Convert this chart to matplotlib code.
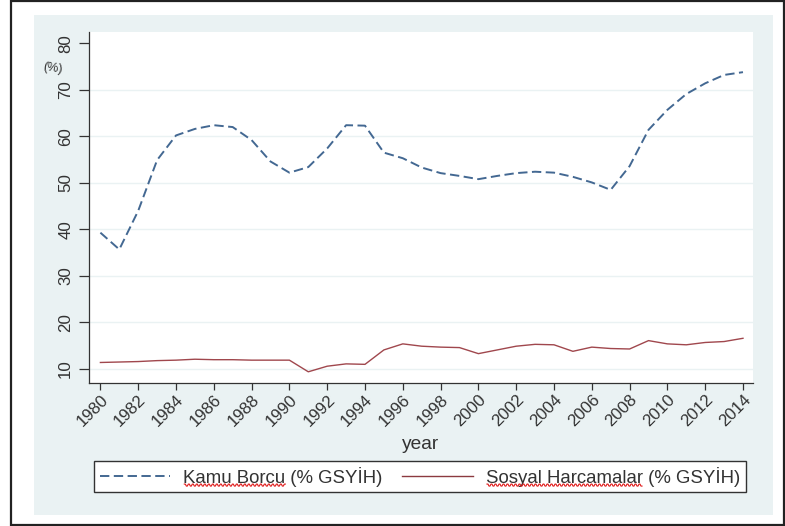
import matplotlib
matplotlib.use('Agg')
import matplotlib.pyplot as plt
from matplotlib.patches import Rectangle
from matplotlib.lines import Line2D
from matplotlib.text import Text
import numpy as np

plt.rcParams['font.family'] = ['Liberation Sans', 'DejaVu Sans']

years = list(range(1980, 2015))
kamu_borcu = [39.3, 35.7, 44.0, 54.9, 60.2, 61.6, 62.4, 62.0, 59.2, 54.6,
              52.2, 53.4, 57.4, 62.4, 62.3, 56.5, 55.3, 53.3, 52.1, 51.5,
              50.8, 51.5, 52.1, 52.4, 52.2, 51.3, 50.1, 48.5, 53.6, 61.4,
              65.7, 69.1, 71.4, 73.2, 73.8]
sosyal_harcamalar = [11.4, 11.5, 11.6, 11.8, 11.9, 12.1, 12.0, 12.0, 11.9, 11.9,
                     11.9, 9.4, 10.6, 11.1, 11.0, 14.1, 15.4, 14.9, 14.7, 14.6,
                     13.3, 14.1, 14.9, 15.3, 15.2, 13.8, 14.7, 14.4, 14.3, 16.1,
                     15.4, 15.2, 15.7, 15.9, 16.6]
x_ticks = list(range(1980, 2015, 2))
y_ticks = [10, 20, 30, 40, 50, 60, 70, 80]
label_debt = "Kamu Borcu (% GSYİH)"
label_social = "Sosyal Harcamalar (% GSYİH)"

W, H = 785, 526
fig = plt.figure(figsize=(W / 100, H / 100), dpi=100)
fig.patch.set_facecolor('white')

def fx(px):
    return px / W

def fy(py):
    return 1 - py / H

# light Stata-like background and outer frame
fig.patches.append(Rectangle((fx(34), fy(515)), fx(773) - fx(34), fy(15) - fy(515),
                             transform=fig.transFigure, facecolor='#eaf2f3',
                             edgecolor='none', zorder=-10))
fig.patches.append(Rectangle((fx(11), fy(524.5)), fx(783.5) - fx(11), fy(1) - fy(524.5),
                             transform=fig.transFigure, facecolor='none',
                             edgecolor='#222222', linewidth=1.6, zorder=5))

ax = fig.add_axes([fx(88.5), fy(383), fx(753) - fx(88.5), fy(32) - fy(383)])
ax.set_zorder(1)
ax.set_facecolor('white')

l1, = ax.plot(years, kamu_borcu, color='#436892', linewidth=1.4,
              linestyle=(0, (4.8, 2.3)), label=label_debt, zorder=3)
l2, = ax.plot(years, sosyal_harcamalar, color='#a0474d', linewidth=1.0,
              label=label_social, zorder=3)

ax.set_xlim(1979.37, 2014.53)
ax.set_ylim(6.99, 82.43)
ax.set_xticks(x_ticks)
ax.set_xticklabels([str(t) for t in x_ticks], rotation=45, ha='right', va='top',
                   rotation_mode='anchor', fontsize=12.2, color='#333333')
ax.set_yticks(y_ticks)
ax.set_yticklabels([str(t) for t in y_ticks], rotation=90, va='center',
                   fontsize=12.2, color='#333333')
ax.tick_params(axis='both', direction='out', width=0.9, color='#333333')
ax.tick_params(axis='x', length=5, pad=1.5)
ax.tick_params(axis='y', length=7, pad=4)

ax.yaxis.grid(True, color='#eaf2f3', linewidth=1.0)
ax.set_axisbelow(True)
for gl, t in zip(ax.get_ygridlines(), y_ticks):
    if t == 80:
        gl.set_visible(False)

for s in ['top', 'right']:
    ax.spines[s].set_visible(False)
for s in ['left', 'bottom']:
    ax.spines[s].set_color('#333333')
    ax.spines[s].set_linewidth(0.9)

ax.set_xlabel('year', fontsize=13.8, color='#333333', labelpad=5)
fig.text(fx(53), fy(68), '(%)', fontsize=9, color='#333333', ha='center',
         va='center', rotation=-8)

leg = fig.legend(handles=[l1, l2], loc='upper left',
                 bbox_to_anchor=(fx(94), fy(461)), bbox_transform=fig.transFigure,
                 ncol=2, fontsize=13.4, frameon=True, fancybox=False,
                 handlelength=3.8, handletextpad=0.7, columnspacing=1.05,
                 borderpad=0.3, borderaxespad=0)
leg.set_zorder(4)
leg.get_frame().set_edgecolor('#333333')
leg.get_frame().set_linewidth(1.0)
leg.get_frame().set_facecolor('white')
leg.get_frame().set_alpha(1)
for t in leg.get_texts():
    t.set_color('#333333')
leg.legend_handles[1].set_color('#8c3a40')

# spell-check style wavy underlines under the Turkish words
fig.canvas.draw()
renderer = fig.canvas.get_renderer()
for t, word in zip(leg.get_texts(), ['Kamu Borcu', 'Sosyal Harcamalar']):
    bb = t.get_window_extent(renderer)
    tmp = Text(0, 0, word, fontproperties=t.get_fontproperties())
    tmp.set_figure(fig)
    wbb = tmp.get_window_extent(renderer)
    xs = np.arange(bb.x0 + 1, bb.x0 + wbb.width, 1.0)
    ys = bb.y0 + 1.5 + 1.0 * np.where((np.arange(len(xs)) // 2) % 2 == 0, 1, -1)
    fig.add_artist(Line2D(xs, ys, transform=None, color='#e01818', linewidth=0.8,
                          zorder=6))

fig.savefig('out.png', dpi=100, facecolor=fig.get_facecolor())
